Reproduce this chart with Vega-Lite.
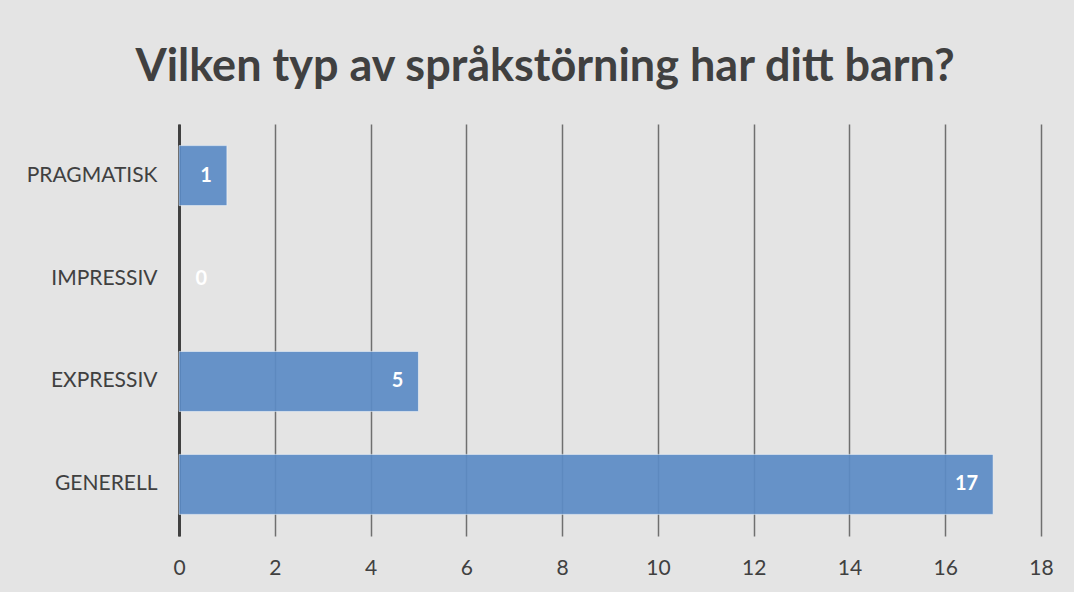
{
  "$schema": "https://vega.github.io/schema/vega-lite/v6.json",
  "autosize": "none",
  "width": 862,
  "height": 412,
  "padding": {"left": 179, "top": 124, "right": 33, "bottom": 56},
  "background": "#e4e4e4",
  "title": {
    "text": "Vilken typ av språkstörning har ditt barn?",
    "font": "Lato",
    "fontSize": 45,
    "fontWeight": "bold",
    "color": "#404040",
    "anchor": "middle",
    "frame": "group",
    "dx": -65,
    "offset": 34
  },
  "config": {
    "view": {"stroke": null},
    "font": "Lato"
  },
  "data": {
    "values": [
      {"typ": "PRAGMATISK", "antal": 1},
      {"typ": "IMPRESSIV", "antal": 0},
      {"typ": "EXPRESSIV", "antal": 5},
      {"typ": "GENERELL", "antal": 17}
    ]
  },
  "encoding": {
    "y": {
      "field": "typ",
      "type": "nominal",
      "sort": ["PRAGMATISK", "IMPRESSIV", "EXPRESSIV", "GENERELL"],
      "scale": {"paddingInner": 0.417, "paddingOuter": 0.21},
      "axis": {
        "title": null,
        "ticks": false,
        "labelFont": "Lato",
        "labelFontSize": 21,
        "labelColor": "#404040",
        "labelPadding": 22,
        "domainColor": "#404040",
        "domainWidth": 3,
        "grid": false
      }
    },
    "x": {
      "field": "antal",
      "type": "quantitative",
      "scale": {"domain": [0, 18], "nice": false},
      "axis": {
        "title": null,
        "values": [0, 2, 4, 6, 8, 10, 12, 14, 16, 18],
        "ticks": false,
        "domain": false,
        "grid": true,
        "gridColor": "#6f6f6f",
        "gridWidth": 1.5,
        "labelFont": "Lato",
        "labelFontSize": 21,
        "labelColor": "#404040",
        "labelPadding": 21,
        "labelFlush": false
      }
    }
  },
  "layer": [
    {
      "transform": [{"filter": "datum.antal > 0"}],
      "mark": {"type": "bar", "color": "#5b8bc5", "fillOpacity": 0.92, "stroke": "#ffffff", "strokeOpacity": 0.5, "strokeWidth": 1}
    },
    {
      "transform": [{"filter": "datum.antal > 0"}],
      "mark": {"type": "text", "align": "right", "dx": -15, "font": "Lato", "fontSize": 20, "fontWeight": "bold", "color": "#ffffff"},
      "encoding": {"text": {"field": "antal", "type": "quantitative"}}
    },
    {
      "transform": [{"filter": "datum.antal == 0"}],
      "mark": {"type": "text", "align": "right", "dx": 28, "font": "Lato", "fontSize": 20, "fontWeight": "bold", "color": "#ffffff"},
      "encoding": {"text": {"field": "antal", "type": "quantitative"}}
    }
  ]
}
